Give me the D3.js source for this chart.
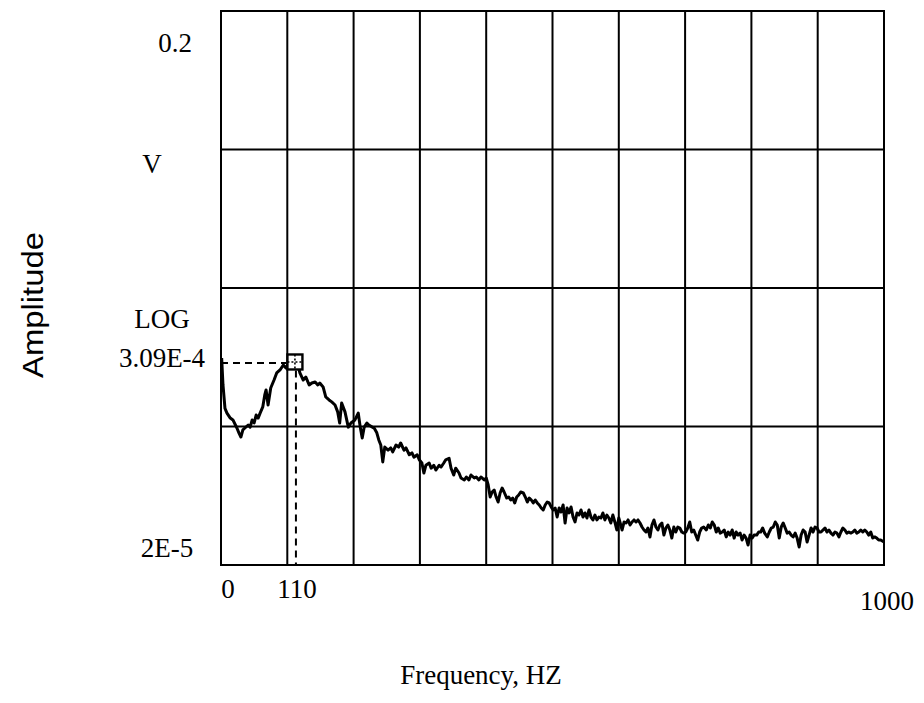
<!DOCTYPE html>
<html><head><meta charset="utf-8">
<script src="https://cdn.jsdelivr.net/npm/d3@7"></script>
<style>body{margin:0;background:#fff}svg{display:block}</style>
</head><body>
<svg id="c" width="924" height="703"></svg>
<script>
// spectrum: [frequency Hz, amplitude in units of 1e-5 V]
const spectrum = [
[1,62.5],[3,39.9],[6,27.0],[9,25.0],[14,23.0],[18,22.3],[24,19.5],[27,18.0],[30,16.8],[33,18.9],
[36,19.5],[41,20.5],[44,19.8],[47,22.3],[50,21.2],[53,24.2],[56,23.0],[59,25.0],[63,27.7],[66,33.8],
[68,36.7],[71,28.6],[75,37.9],[80,43.3],[84,48.7],[89,51.2],[94,55.6],[98,52.9],[103,58.5],[107,60.4],
[112,58.5],[116,55.6],[119,48.7],[124,43.3],[128,45.5],[133,39.9],[137,41.2],[142,41.9],[146,39.9],[149,41.2],
[154,38.6],[158,32.7],[163,31.1],[167,30.1],[172,28.6],[176,25.5],[179,21.2],[182,29.6],[187,25.5],[192,19.8],
[196,21.2],[202,22.3],[207,25.0],[210,19.8],[213,16.5],[216,19.8],[220,21.2],[223,20.5],[228,19.8],[231,19.5],
[235,18.0],[238,16.0],[241,14.7],[244,11.1],[247,14.2],[252,13.5],[256,14.0],[259,13.1],[264,14.7],[268,14.2],
[271,15.2],[276,13.5],[279,14.0],[284,12.5],[288,12.9],[291,12.0],[296,12.5],[299,11.5],[303,10.9],[306,9.23],
[309,10.5],[314,10.9],[317,10.0],[321,10.5],[324,9.70],[329,10.5],[332,10.2],[336,10.9],[339,11.5],[344,11.8],
[347,10.0],[351,8.93],[354,10.0],[359,9.23],[362,8.50],[367,8.22],[370,8.64],[374,8.22],[377,8.93],[382,8.50],
[385,8.64],[389,8.22],[392,8.64],[397,8.22],[400,8.50],[403,7.56],[406,6.19],[409,6.73],[412,6.96],[415,6.19],
[418,5.70],[421,6.62],[424,7.19],[427,6.73],[431,6.09],[434,6.19],[437,5.89],[440,6.09],[443,5.61],[446,6.19],
[449,6.40],[452,6.73],[456,6.62],[459,6.19],[462,5.70],[465,6.09],[468,5.89],[471,5.61],[474,5.89],[477,5.61],
[480,5.42],[483,5.16],[486,4.99],[489,5.42],[492,5.70],[495,5.61],[498,5.25],[501,4.99],[504,5.16],[507,4.44],
[510,5.16],[513,4.83],[516,5.42],[519,4.02],[522,5.16],[525,4.75],[528,5.25],[531,4.44],[534,4.09],[537,4.75],
[540,4.59],[543,4.99],[546,4.44],[549,4.75],[552,4.37],[555,4.99],[558,4.44],[561,4.23],[564,4.59],[567,4.23],
[570,4.44],[573,4.37],[576,4.75],[579,4.23],[582,4.59],[585,4.37],[588,4.02],[591,4.59],[594,4.09],[597,3.58],
[600,4.37],[605,3.58],[608,4.09],[611,4.02],[614,4.23],[617,3.89],[620,4.09],[623,4.23],[626,4.09],[629,4.23],
[632,4.02],[635,3.76],[638,3.58],[641,3.46],[644,3.70],[647,3.19],[650,3.89],[653,4.23],[656,3.76],[659,3.58],
[662,3.89],[665,4.02],[668,3.29],[671,3.70],[674,3.89],[677,3.58],[680,3.13],[683,3.76],[686,3.46],[689,3.76],
[692,3.70],[695,3.46],[698,3.40],[701,3.46],[704,3.70],[707,4.09],[710,3.46],[713,3.58],[716,3.29],[719,3.03],
[722,3.46],[725,3.70],[728,3.76],[732,3.58],[735,3.89],[738,3.70],[741,4.09],[744,3.89],[747,3.46],[750,3.70],
[753,3.40],[756,3.46],[759,3.58],[762,3.19],[765,3.46],[768,3.29],[771,3.58],[774,3.13],[777,3.46],[780,3.29],
[783,3.40],[786,3.03],[789,3.29],[792,3.13],[795,2.79],[798,3.29],[801,3.13],[804,3.29],[808,3.29],[811,3.46],
[814,3.46],[817,3.70],[820,3.40],[824,3.19],[827,3.46],[830,3.70],[833,3.76],[836,4.09],[839,3.89],[842,3.13],
[845,3.76],[848,4.02],[851,3.70],[854,3.40],[857,3.46],[860,3.29],[863,3.19],[866,3.40],[869,3.13],[872,2.70],
[875,3.29],[878,3.58],[881,3.46],[884,2.93],[887,3.29],[890,3.70],[893,3.46],[896,3.76],[899,3.70],[902,3.46],
[905,3.46],[908,3.58],[911,3.70],[914,3.46],[917,3.58],[920,3.40],[923,3.29],[926,3.46],[929,3.40],[932,3.19],
[935,3.46],[938,3.70],[941,3.58],[944,3.40],[947,3.46],[950,3.40],[953,3.46],[956,3.58],[959,3.40],[962,3.46],
[965,3.58],[968,3.46],[971,3.58],[974,3.46],[977,3.29],[980,3.46],[983,3.13],[986,3.19],[989,3.13],[992,3.03],
[995,3.03],[1000,2.93]
];
const ampUnit = 1e-5;

const xDomain = [0, 1000];
const yDomain = [2e-5, 0.2];
const xGridValues = [100, 200, 300, 400, 500, 600, 700, 800, 900];
const yGridValues = [2e-4, 2e-3, 2e-2];
const xTickValues = [0, 110, 1000];
const xTickLabels = ["0", "110", "1000"];
const yTopLabel = "0.2";
const yUnitLabel = "V";
const yScaleLabel = "LOG";
const yBottomLabel = "2E-5";
const peakFreq = 110;
const peakAmp = 5.75e-4;
const peakLabel = "3.09E-4";
const xTitle = "Frequency, HZ";
const yTitle = "Amplitude";

const W = 924, H = 703;
const m = {left: 221, right: 40, top: 11, bottom: 138};
const svg = d3.select("#c");
const x = d3.scaleLinear().domain(xDomain).range([m.left, W - m.right]);
const y = d3.scaleLog().domain(yDomain).range([H - m.bottom, m.top]);
const serif = "'Liberation Serif', 'Times New Roman', serif";
const sans = "'Liberation Sans', Arial, sans-serif";
const fs = 27;

// grid
const g = svg.append("g").attr("stroke", "#000").attr("stroke-width", 2).attr("fill", "none");
g.selectAll(".vg").data(xGridValues).join("line")
  .attr("x1", d => x(d)).attr("x2", d => x(d)).attr("y1", y(yDomain[1])).attr("y2", y(yDomain[0]));
g.selectAll(".hg").data(yGridValues).join("line")
  .attr("x1", x(xDomain[0])).attr("x2", x(xDomain[1])).attr("y1", d => y(d)).attr("y2", d => y(d));
g.append("rect").attr("x", x(xDomain[0])).attr("y", y(yDomain[1]))
  .attr("width", x(xDomain[1]) - x(xDomain[0])).attr("height", y(yDomain[0]) - y(yDomain[1]));

// peak cursor dashed lines
const px = x(peakFreq), py = y(peakAmp), ms = 7.5;
svg.append("line").attr("x1", x(0)).attr("x2", px - ms).attr("y1", py).attr("y2", py)
  .attr("stroke", "#000").attr("stroke-width", 2).attr("stroke-dasharray", "7,5");
svg.append("line").attr("x1", px + 2).attr("x2", px + 2).attr("y1", py + ms).attr("y2", y(yDomain[0]))
  .attr("stroke", "#000").attr("stroke-width", 2).attr("stroke-dasharray", "7,5");

// spectrum line
const line = d3.line().x(d => x(d[0])).y(d => y(d[1] * ampUnit));
svg.append("path").datum(spectrum).attr("d", line)
  .attr("fill", "none").attr("stroke", "#000").attr("stroke-width", 3).attr("stroke-linejoin", "round");

// peak marker
const mk = svg.append("g").attr("transform", `translate(${px + 1},${py - 1})`);
mk.append("rect").attr("x", -ms).attr("y", -ms).attr("width", 2 * ms).attr("height", 2 * ms)
  .attr("fill", "#fff").attr("stroke", "#000").attr("stroke-width", 2.4);
mk.append("line").attr("x1", -ms).attr("x2", ms).attr("y1", 0).attr("y2", 0)
  .attr("stroke", "#000").attr("stroke-width", 1.6).attr("stroke-dasharray", "2,2");
mk.append("line").attr("y1", -ms).attr("y2", ms).attr("x1", 0).attr("x2", 0)
  .attr("stroke", "#000").attr("stroke-width", 1.6).attr("stroke-dasharray", "2,2");

// y side labels
const lab = (t, xx, yy, font, size) => svg.append("text").text(t).attr("x", xx).attr("y", yy)
  .attr("text-anchor", "middle").attr("font-family", font).attr("font-size", size).attr("fill", "#000");
lab(yTopLabel, m.left - 46, y(yDomain[1]) + 41, serif, fs);
lab(yUnitLabel, m.left - 69, y(yGridValues[2]) + 23, serif, fs);
lab(yScaleLabel, m.left - 59, y(yGridValues[1]) + 40, serif, fs);
lab(peakLabel, m.left - 59, py + 4, serif, fs);
lab(yBottomLabel, m.left - 54, y(yDomain[0]) - 8, serif, fs);

// x tick labels
const xOff = [7, 3, 3];
const yOff = [33, 33, 45];
xTickValues.forEach((v, i) => lab(xTickLabels[i], x(v) + xOff[i], y(yDomain[0]) + yOff[i], serif, fs));

// titles
lab(xTitle, 481, 684, serif, fs);
svg.append("text").text(yTitle)
  .attr("transform", `translate(43,305) rotate(-90)`)
  .attr("text-anchor", "middle").attr("font-family", sans).attr("font-size", 30)
  .attr("textLength", 146).attr("lengthAdjust", "spacingAndGlyphs").attr("fill", "#000");
</script>
</body></html>
